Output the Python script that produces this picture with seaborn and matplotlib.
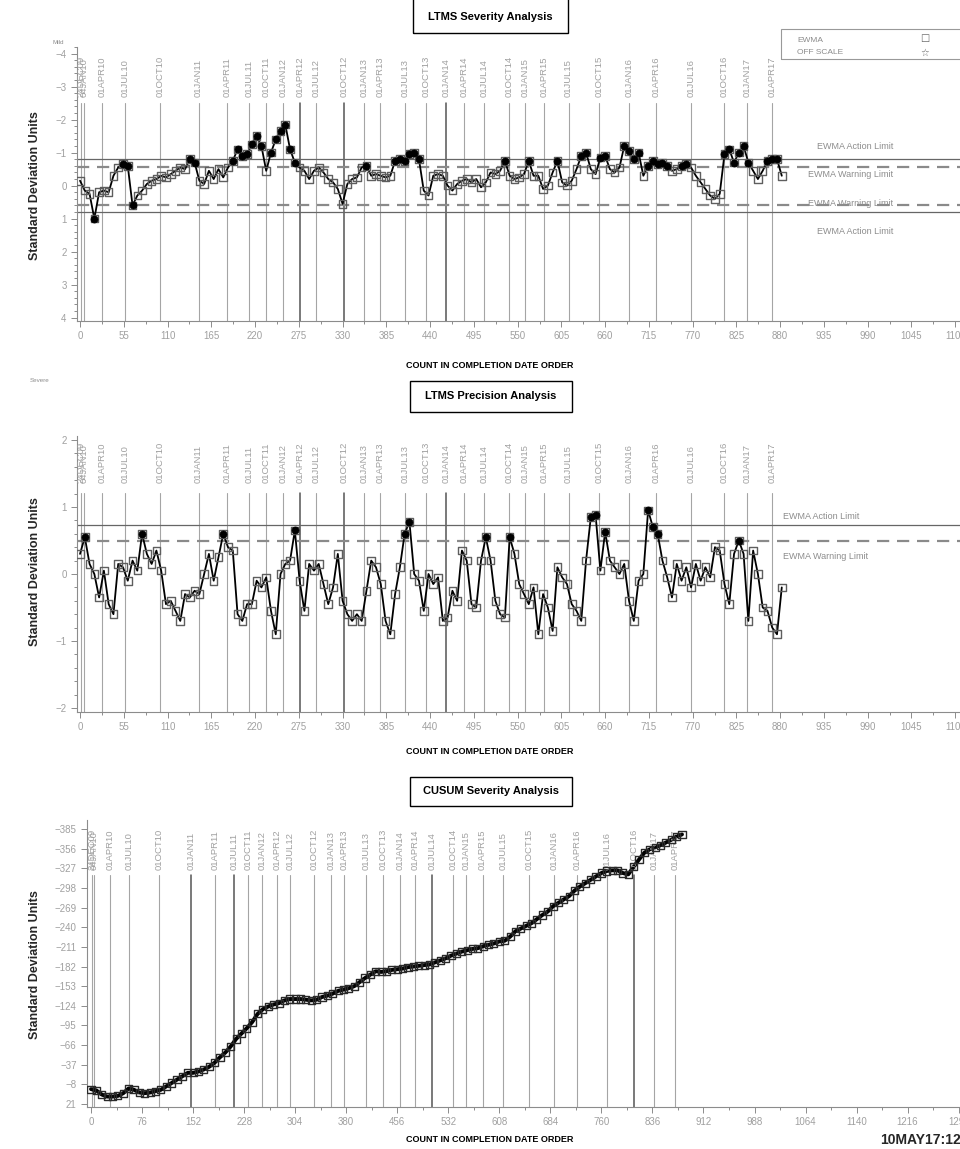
import numpy as np
import pandas as pd
import matplotlib
matplotlib.use("Agg")
import matplotlib.pyplot as plt
from matplotlib import font_manager
from matplotlib.patches import Rectangle
from matplotlib.ticker import AutoMinorLocator
import seaborn as sns

# date reference lines: label and test count where the quarter starts
date_labels = ["24DEC09", "04JAN10", "01APR10", "01JUL10", "01OCT10", "01JAN11", "01APR11",
               "01JUL11", "01OCT11", "01JAN12", "01APR12", "01JUL12", "01OCT12", "01JAN13",
               "01APR13", "01JUL13", "01OCT13", "01JAN14", "01APR14", "01JUL14", "01OCT14",
               "01JAN15", "01APR15", "01JUL15", "01OCT15", "01JAN16", "01APR16", "01JUL16",
               "01OCT16", "01JAN17", "01APR17"]
date_counts = [1, 5, 28, 57, 101, 149, 185, 213, 234, 255, 277, 297, 332, 357, 377, 409,
               435, 460, 483, 508, 539, 559, 583, 614, 652, 690, 724, 768, 809, 838, 870]

# EWMA severity, one value every 6 tests
sev_step = 6
sev_ewma = [-0.15, 0.15, 0.25, 1.0, 0.2, 0.15, 0.2, -0.3, -0.55, -0.65,
            -0.6, 0.6, 0.3, 0.15, -0.05, -0.15, -0.2, -0.3, -0.25, -0.35,
            -0.45, -0.55, -0.5, -0.8, -0.7, -0.15, -0.05, -0.45, -0.2, -0.5,
            -0.25, -0.55, -0.75, -1.1, -0.9, -0.95, -1.25, -1.5, -1.2, -0.45,
            -1.0, -1.4, -1.65, -1.85, -1.1, -0.7, -0.55, -0.45, -0.2, -0.45,
            -0.55, -0.4, -0.2, -0.1, 0.1, 0.55, -0.05, -0.2, -0.25, -0.55,
            -0.6, -0.3, -0.35, -0.3, -0.25, -0.3, -0.75, -0.8, -0.75, -0.95,
            -1.0, -0.8, 0.15, 0.3, -0.3, -0.35, -0.3, 0.0, 0.15, -0.05,
            -0.15, -0.2, -0.1, -0.2, 0.05, -0.1, -0.4, -0.35, -0.45, -0.75,
            -0.3, -0.2, -0.25, -0.35, -0.75, -0.3, -0.3, 0.1, 0.0, -0.4,
            -0.75, -0.1, 0.0, -0.15, -0.5, -0.9, -1.0, -0.5, -0.35, -0.85,
            -0.9, -0.5, -0.4, -0.55, -1.2, -1.05, -0.8, -1.0, -0.3, -0.6,
            -0.75, -0.65, -0.7, -0.6, -0.45, -0.5, -0.6, -0.65, -0.55, -0.3,
            -0.1, 0.1, 0.3, 0.4, 0.25, -0.95, -1.1, -0.7, -1.0, -1.2,
            -0.7, -0.45, -0.2, -0.45, -0.75, -0.8, -0.8, -0.3]
sev_action, sev_warning = 0.80, 0.58

# EWMA precision, one value every 6 tests
prec_step = 6
prec_ewma = [0.3, 0.55, 0.15, 0.0, -0.35, 0.05, -0.45, -0.6, 0.15, 0.1,
             -0.1, 0.2, 0.05, 0.6, 0.3, 0.15, 0.35, 0.05, -0.45, -0.4,
             -0.55, -0.7, -0.3, -0.35, -0.25, -0.3, 0.0, 0.3, -0.1, 0.25,
             0.6, 0.4, 0.35, -0.6, -0.7, -0.45, -0.45, -0.1, -0.2, -0.05,
             -0.55, -0.9, 0.0, 0.15, 0.2, 0.65, -0.1, -0.55, 0.15, 0.05,
             0.15, -0.15, -0.45, -0.2, 0.3, -0.4, -0.6, -0.7, -0.6, -0.7,
             -0.25, 0.2, 0.1, -0.15, -0.7, -0.9, -0.3, 0.1, 0.6, 0.78,
             0.0, -0.1, -0.55, 0.0, -0.15, -0.05, -0.7, -0.65, -0.25, -0.4,
             0.35, 0.2, -0.45, -0.5, 0.2, 0.55, 0.2, -0.4, -0.6, -0.65,
             0.55, 0.3, -0.15, -0.3, -0.45, -0.2, -0.9, -0.3, -0.5, -0.85,
             0.1, -0.05, -0.15, -0.45, -0.55, -0.7, 0.2, 0.85, 0.88, 0.05,
             0.63, 0.2, 0.1, 0.0, 0.15, -0.4, -0.7, -0.1, 0.0, 0.95,
             0.7, 0.6, 0.2, -0.05, -0.35, 0.15, -0.1, 0.1, -0.2, 0.15,
             -0.1, 0.1, -0.05, 0.4, 0.35, -0.15, -0.45, 0.3, 0.5, 0.3,
             -0.7, 0.35, 0.0, -0.5, -0.55, -0.8, -0.9, -0.2]
prec_action, prec_warning = 0.73, 0.49

# CUSUM severity, one value every 8 tests
cusum_step = 8
cusum = [-1, 1, 7, 10, 10, 9, 5, -2, 0, 4,
         5, 4, 2, 0, -5, -10, -15, -20, -25, -25,
         -27, -30, -34, -40, -48, -55, -64, -75, -83, -91,
         -100, -112, -119, -123, -126, -128, -132, -134, -134, -134,
         -133, -132, -133, -137, -139, -142, -146, -148, -150, -153,
         -159, -165, -170, -175, -174, -175, -177, -178, -179, -181,
         -182, -183, -184, -185, -188, -191, -194, -198, -201, -204,
         -206, -208, -209, -212, -214, -216, -219, -220, -226, -234,
         -238, -242, -246, -252, -258, -263, -271, -276, -281, -286,
         -294, -300, -305, -310, -315, -320, -323, -324, -324, -320,
         -318, -329, -340, -350, -355, -358, -361, -365, -369, -374, -377]
cusum_ticks = [-385, -356, -327, -298, -269, -240, -211, -182, -153, -124, -95, -66, -37, -8, 21]

# date lines that print darker in each chart
dark_ewma = [277, 332, 460]
dark_cusum = [149, 213, 508, 809]

sev = pd.DataFrame({"count": np.arange(len(sev_ewma)) * sev_step, "ewma": sev_ewma})
prec = pd.DataFrame({"count": np.arange(len(prec_ewma)) * prec_step, "ewma": prec_ewma})
cus = pd.DataFrame({"count": np.arange(len(cusum)) * cusum_step, "cusum": cusum})

names = {f.name for f in font_manager.fontManager.ttflist}
narrow = "Liberation Sans Narrow" if "Liberation Sans Narrow" in names else "Liberation Sans"

sns.set_theme(style="white")
plt.rcParams["font.family"] = [narrow, "DejaVu Sans"]

W, H = 960, 1149
fig = plt.figure(figsize=(W / 100, H / 100), dpi=100)
GREY = "#8c8c8c"
LIGHT = "#a0a0a0"


def ftext(px, py, s, **kw):
    return fig.text(px / W, 1 - py / H, s, **kw)


def fbox(x0, y0, x1, y1, color="black", lw=1.0):
    fig.add_artist(Rectangle((x0 / W, 1 - y1 / H), (x1 - x0) / W, (y1 - y0) / H,
                             transform=fig.transFigure, fill=False, edgecolor=color, lw=lw))


def panel(left, top, right, bottom):
    ax = fig.add_axes([left / W, 1 - bottom / H, (right - left) / W, (bottom - top) / H])
    for s in ("top", "right"):
        ax.spines[s].set_visible(False)
    for s in ("left", "bottom"):
        ax.spines[s].set_color(GREY)
        ax.spines[s].set_linewidth(0.8)
    ax.tick_params(which="both", direction="out", colors=GREY, labelsize=7, width=0.7,
                   bottom=True, left=True, labelcolor=LIGHT)
    ax.tick_params(which="major", length=4)
    ax.tick_params(which="minor", length=2)
    return ax


def date_marks(ax, line_top, text_y, dark):
    tr = ax.get_xaxis_transform()
    for c, lab in zip(date_counts, date_labels):
        col, lw = ("#555555", 1.1) if c in dark else ("#a5a5a5", 0.8)
        ax.axvline(c, ymin=0, ymax=line_top, color=col, lw=lw, zorder=1)
        ax.text(c, text_y, lab, transform=tr, rotation=90, ha="center", va="bottom",
                fontsize=6.8, color=LIGHT)


def ewma_marks(ax, df, out_mask):
    sns.lineplot(data=df, x="count", y="ewma", ax=ax, color="black", lw=1.3,
                 sort=False, estimator=None, zorder=3)
    sns.scatterplot(data=df, x="count", y="ewma", ax=ax, marker="s", s=30, color="none",
                    edgecolor="#5e5e5e", linewidth=1.0, zorder=4)
    sns.scatterplot(data=df[out_mask], x="count", y="ewma", ax=ax, marker="o", s=26,
                    color="black", edgecolor="black", linewidth=0.5, zorder=5)
    ax.set_xlabel("")
    ax.set_ylabel("")


def limit_lines(ax, solid, dashed):
    for v in solid:
        ax.axhline(v, color="#666666", lw=0.9, zorder=2)
    for v in dashed:
        ax.axhline(v, color="#8a8a8a", lw=1.6, ls=(0, (5.5, 3.5)), zorder=2)


# ---- LTMS Severity Analysis ----
ax1 = panel(77, 47, 960, 321)
ewma_marks(ax1, sev, sev["ewma"].abs() > sev_warning)
limit_lines(ax1, [-sev_action, sev_action], [-sev_warning, sev_warning])
ax1.set_xlim(-3.8, 1106)
ax1.set_ylim(4.1, -4.2)
ax1.set_xticks(range(0, 1101, 55))
ax1.set_yticks(range(-4, 5))
ax1.xaxis.set_minor_locator(AutoMinorLocator(2))
ax1.yaxis.set_minor_locator(AutoMinorLocator(5))
date_marks(ax1, 0.796, 0.818, dark_ewma)
for yv, lab in [(-1.18, "EWMA Action Limit"), (-0.33, "EWMA Warning Limit"),
                (0.55, "EWMA Warning Limit"), (1.39, "EWMA Action Limit")]:
    ax1.text(1022, yv, lab, ha="right", va="center", fontsize=6.5, color=GREY)

# ---- LTMS Precision Analysis ----
ax2 = panel(77, 436, 960, 712)
ewma_marks(ax2, prec, prec["ewma"] > prec_warning)
limit_lines(ax2, [prec_action], [prec_warning])
ax2.set_xlim(-3.8, 1106)
ax2.set_ylim(-2.06, 2.06)
ax2.set_xticks(range(0, 1101, 55))
ax2.set_yticks(range(-2, 3))
ax2.xaxis.set_minor_locator(AutoMinorLocator(2))
ax2.yaxis.set_minor_locator(AutoMinorLocator(5))
date_marks(ax2, 0.793, 0.83, dark_ewma)
ax2.text(884, 0.86, "EWMA Action Limit", ha="left", va="center", fontsize=6.5, color=GREY)
ax2.text(884, 0.26, "EWMA Warning Limit", ha="left", va="center", fontsize=6.5, color=GREY)

# ---- CUSUM Severity Analysis ----
ax3 = panel(87, 820, 960, 1107)
sns.lineplot(data=cus, x="count", y="cusum", ax=ax3, color="black", lw=2.8,
             sort=False, estimator=None, zorder=3)
sns.scatterplot(data=cus, x="count", y="cusum", ax=ax3, marker="s", s=26, color="none",
                edgecolor="#2a2a2a", linewidth=1.0, zorder=4)
ax3.set_xlabel("")
ax3.set_ylabel("")
ax3.set_xlim(-6, 1294)
ax3.set_ylim(25.4, -398.3)
ax3.set_xticks(range(0, 1293, 76))
ax3.set_yticks(cusum_ticks)
ax3.xaxis.set_minor_locator(AutoMinorLocator(2))
date_marks(ax3, 0.807, 0.825, dark_cusum)

# ---- frame texts ----
bold = dict(fontweight="bold", color="black", ha="center", va="center")
fbox(413, -3, 568, 33)
ftext(490, 17, "LTMS Severity Analysis", fontsize=8, **bold)
fbox(410, 381, 572, 412)
ftext(491, 396, "LTMS Precision Analysis", fontsize=8, **bold)
fbox(410, 777, 572, 806)
ftext(491, 791, "CUSUM Severity Analysis", fontsize=8, **bold)

for py in (366, 752, 1140):
    ftext(490, py, "COUNT IN COMPLETION DATE ORDER", fontsize=6.5, **bold)

for py in (186, 572, 965):
    fig.text(35 / W, 1 - py / H, "Standard Deviation Units", rotation=90, ha="center",
             va="center", fontsize=9, fontweight="bold", family=["Liberation Sans", "DejaVu Sans"])

ftext(880, 1140, "10MAY17:12:", fontsize=10, fontweight="bold", ha="left", va="center")
ftext(58, 43, "Mild", fontsize=4.5, color=GREY, ha="center", va="center")
ftext(40, 381, "Severe", fontsize=4.5, color=GREY, ha="center", va="center")

# legend of the severity chart
fbox(781, 29, 965, 59, color="#999999", lw=0.8)
ftext(797, 40, "EWMA", fontsize=6, color=GREY, ha="left", va="center")
ftext(797, 53, "OFF SCALE", fontsize=6, color=GREY, ha="left", va="center")
ftext(925, 38, "\u25a1", fontsize=7, color="#666666", ha="center", va="center",
      family=["DejaVu Sans"])
ftext(925, 53, "\u2606", fontsize=7, color="#666666", ha="center", va="center",
      family=["DejaVu Sans"])

fig.savefig("out.png", dpi=100)
